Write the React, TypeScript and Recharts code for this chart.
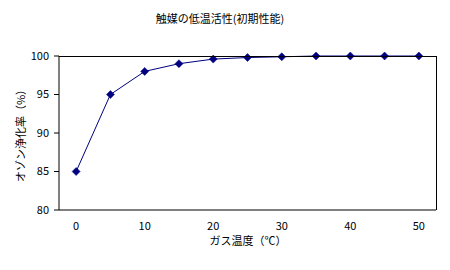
import React from "react";
import { LineChart, Line, XAxis, YAxis } from "recharts";

const temps = [0, 5, 10, 15, 20, 25, 30, 35, 40, 45, 50];
const ozoneRate = [85, 95, 98, 99, 99.6, 99.8, 99.9, 100, 100, 100, 100];
const yTicks = [80, 85, 90, 95, 100];
const xTicks = [0, 10, 20, 30, 40, 50];
const xDomain = [-2.5, 52.5];
const yDomain = [80, 100];

const title = "触媒の低温活性(初期性能)";
const xLabel = "ガス温度（℃）";
const yLabel = "オゾン浄化率（%）";

const data = temps.map((t, i) => ({ t, v: ozoneRate[i] }));

const FONT = "'Noto Sans CJK JP', sans-serif";

const W = 450;
const H = 270;
const M = { top: 56, right: 14, bottom: 40, left: 0 };
const Y_AXIS_W = 59;
const X_AXIS_H = 20;

const Diamond = (props: any) => {
  const { cx, cy } = props;
  if (cx == null || cy == null) return null;
  const r = 4;
  return (
    <polygon
      points={`${cx},${cy - r} ${cx + r},${cy} ${cx},${cy + r} ${cx - r},${cy}`}
      fill="#000080"
      stroke="#000080"
      strokeWidth={0.5}
    />
  );
};

export default function App() {
  const plotLeft = M.left + Y_AXIS_W;
  const plotTop = M.top;
  const plotW = W - M.right - plotLeft;
  const plotH = H - M.bottom - X_AXIS_H - plotTop;
  return (
    <div style={{ position: "absolute", left: 0, top: 0, width: W, height: H, background: "#fff", fontFamily: FONT }}>
      <LineChart width={W} height={H} data={data} margin={M}>
        <XAxis
          dataKey="t"
          type="number"
          domain={xDomain}
          ticks={xTicks}
          interval={0}
          tickLine={false}
          tickSize={0}
          tickMargin={12}
          height={X_AXIS_H}
          axisLine={{ stroke: "#000", strokeWidth: 1 }}
          tick={{ fill: "#000", fontSize: 11, fontFamily: FONT }}
        />
        <YAxis
          domain={yDomain}
          ticks={yTicks}
          width={Y_AXIS_W}
          tickSize={5}
          tickMargin={5}
          interval={0}
          axisLine={{ stroke: "#000", strokeWidth: 1 }}
          tickLine={{ stroke: "#000" }}
          tick={{ fill: "#000", fontSize: 11, fontFamily: FONT }}
        />
        <Line
          dataKey="v"
          type="linear"
          stroke="#000080"
          strokeWidth={1}
          dot={<Diamond />}
          activeDot={false}
          isAnimationActive={false}
        />
      </LineChart>
      <div
        style={{
          position: "absolute",
          left: plotLeft,
          top: plotTop - 0.5,
          width: plotW + 0.5,
          height: plotH,
          borderTop: "1px solid #000",
          borderRight: "1px solid #000",
          boxSizing: "border-box",
          pointerEvents: "none",
        }}
      />
      <div style={{ position: "absolute", top: 11, left: 0, width: 440, textAlign: "center", fontSize: 11, lineHeight: "14px", color: "#000" }}>{title}</div>
      <div style={{ position: "absolute", top: 233, left: 248 - 100, width: 200, textAlign: "center", fontSize: 11, lineHeight: "14px", color: "#000" }}>{xLabel}</div>
      <div
        style={{
          position: "absolute",
          left: 20 - 60,
          top: 133 - 7,
          width: 120,
          textAlign: "center",
          fontSize: 11,
          lineHeight: "14px",
          color: "#000",
          transform: "rotate(-90deg)",
          transformOrigin: "60px 7px",
        }}
      >
        {yLabel}
      </div>
    </div>
  );
}
